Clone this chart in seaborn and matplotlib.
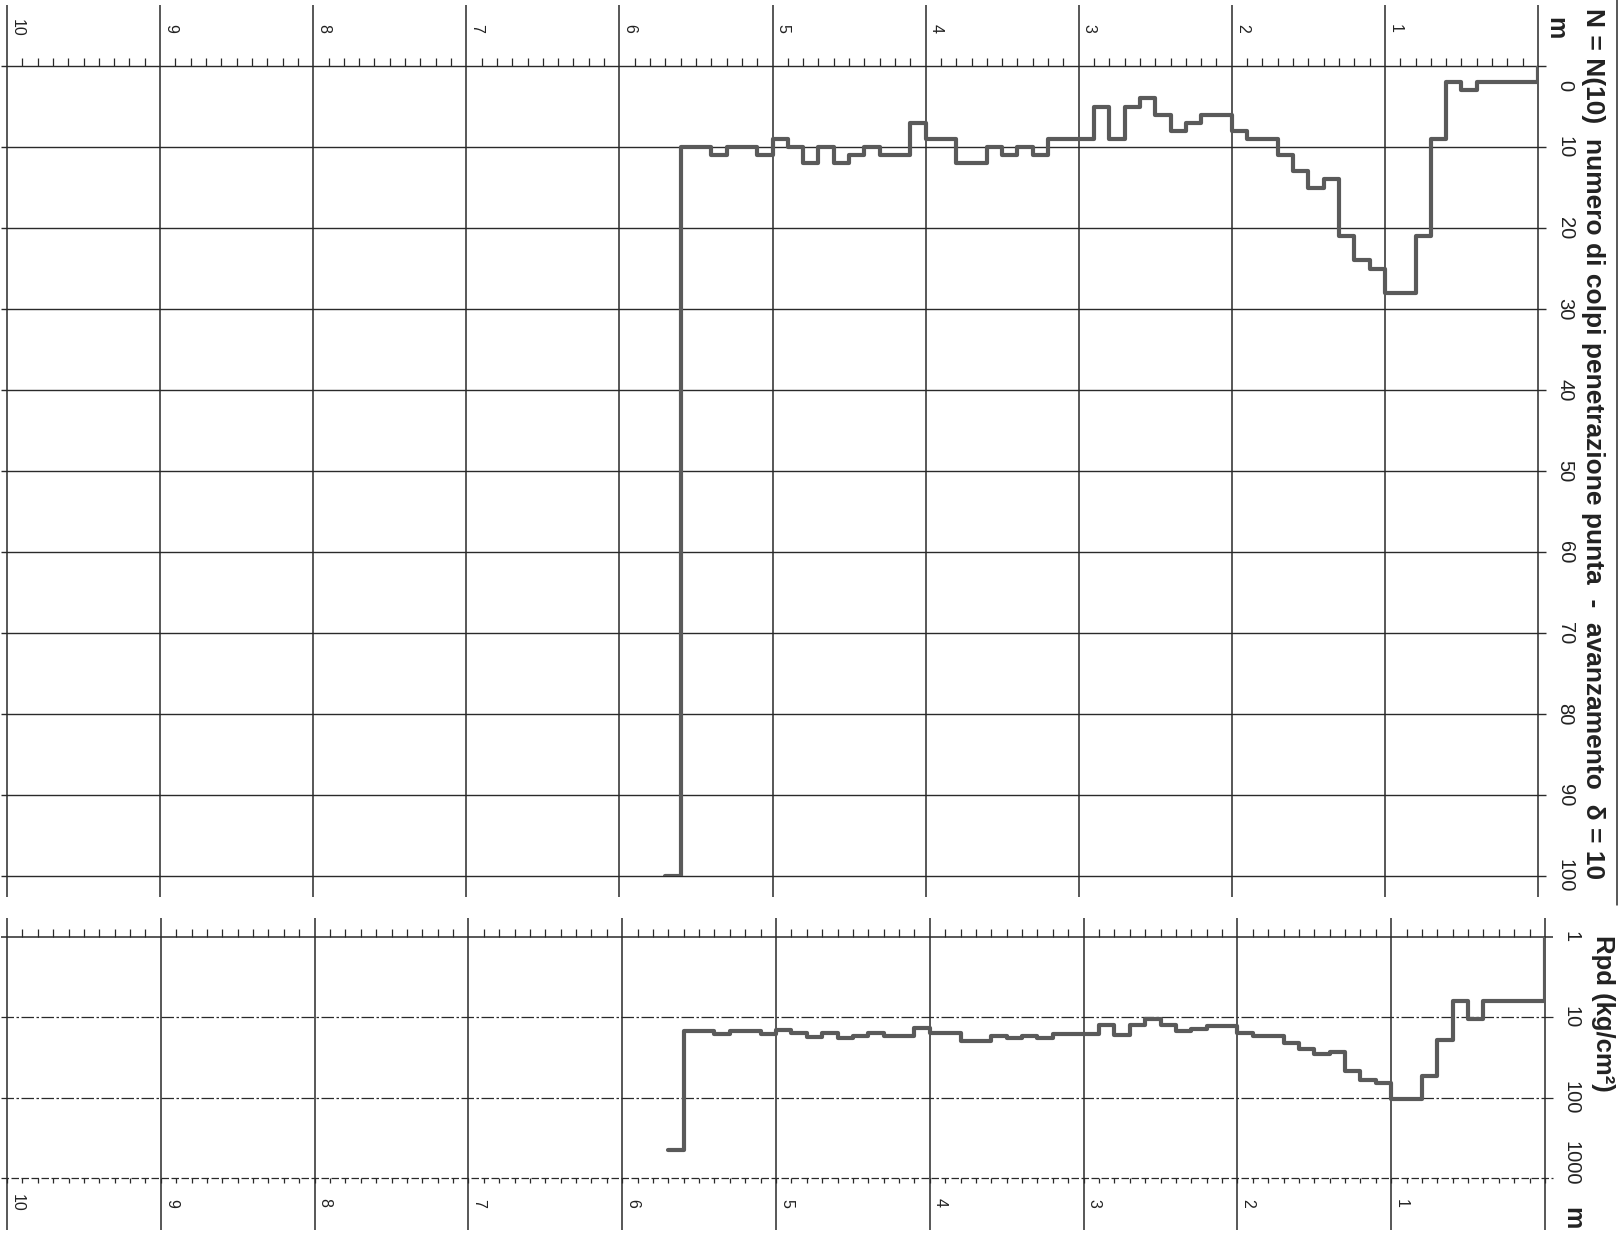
# Penetrometer log (DPM) - rotated layout, depth runs right -> left
import numpy as np
import pandas as pd
import matplotlib
matplotlib.use("Agg")
import matplotlib.pyplot as plt
import matplotlib.transforms as mtrans
from matplotlib.ticker import NullLocator
import seaborn as sns

# data: one value every 10 cm from 0 to 5.7 m
step = 0.1
n_blows = [2, 2, 2, 2, 3, 2, 9, 21, 28, 28,
           25, 24, 21, 14, 15, 13, 11, 9, 9, 8,
           6, 6, 7, 8, 6, 4, 5, 9, 5, 9,
           9, 9, 11, 10, 11, 10, 12, 12, 9, 9,
           7, 11, 11, 10, 11, 12, 10, 12, 10, 9,
           11, 10, 10, 11, 10, 10, 100]
rpd = [6.2, 6.2, 6.2, 6.2, 10.5, 6.2, 19, 53, 104, 104,
       66, 60, 47, 27, 29, 24.5, 21, 17, 17, 15.8,
       12.8, 12.8, 14, 15, 12.5, 10.5, 12.5, 16.5, 12.5, 16,
       16, 16, 18, 17, 18, 17, 19.5, 19.5, 15.5, 15.5,
       13.5, 17, 17, 15.5, 17, 18, 15.5, 17.5, 15.5, 14.5,
       16, 15, 15, 16, 15, 15, 450]

depth_labels = list(range(1, 11))
n_ticks = list(range(0, 101, 10))
rpd_ticks = [1, 10, 100, 1000]
title_n = "N = N(10)  numero di colpi penetrazione punta  -  avanzamento  \u03b4 = 10"
title_rpd = "Rpd (kg/cm\u00b2)"

# step table
edges = np.round(np.arange(len(n_blows) + 1) * step, 1)
df = pd.DataFrame({
    "depth": np.r_[0.0, edges],
    "N": np.r_[0, n_blows, n_blows[-1]],
    "Rpd": np.r_[1, rpd, rpd[-1]],
})

sns.set_style("white")
plt.rcParams["font.family"] = ["Liberation Sans", "DejaVu Sans"]

W, H = 1622, 1244
fig = plt.figure(figsize=(W / 100, H / 100), dpi=100)
fig.patch.set_facecolor("white")


def fx(px):
    return px / W


def fy(py):
    return 1 - py / H


grid_c = "#2a2a2a"
line_c = "#5a5a5a"
text_c = "#222222"

# axes rectangles (pixel positions of the scan)
ax1 = fig.add_axes([fx(7), fy(876), fx(1538) - fx(7), fy(66) - fy(876)])
ax2 = fig.add_axes([fx(7), fy(1178), fx(1545) - fx(7), fy(937) - fy(1178)])
h1 = 876 - 66
h2 = 1178 - 937

# ---------- panel 1 : N ----------
ax1.set_xlim(10, 0)
ax1.set_ylim(100, 0)
sns.lineplot(data=df, x="depth", y="N", ax=ax1, drawstyle="steps-post",
             estimator=None, sort=False, color=line_c, lw=3.0, zorder=5)
ax1.hlines(n_ticks, -0.004, 1.005, transform=ax1.get_yaxis_transform(),
           color=grid_c, lw=1.0, clip_on=False)
ax1.vlines(range(11), -21 / h1, 1 + 61 / h1, transform=ax1.get_xaxis_transform(),
           color=grid_c, lw=1.1, clip_on=False)
ax1.set_xticks(range(11))
ax1.set_xticks(np.arange(0, 10.01, 0.1), minor=True)
ax1.xaxis.set_ticks_position("top")
ax1.tick_params(axis="x", which="major", length=0, labeltop=False, labelbottom=False)
ax1.tick_params(axis="x", which="minor", length=6, width=0.9, color=grid_c,
                direction="out", top=True, bottom=False)
ax1.set_yticks([])
ax1.set_xlabel("")
ax1.set_ylabel("")
for s in ax1.spines.values():
    s.set_visible(False)

tr = mtrans.offset_copy(ax1.get_xaxis_transform(), fig=fig, x=3, units="dots")
for d in depth_labels:
    ax1.text(d, 1 + 38 / h1, str(d), transform=tr, rotation=-90,
             ha="left", va="center", fontsize=11.5, color=text_c)
for v in n_ticks:
    off = -20 if v == 0 else 0
    trn = mtrans.offset_copy(ax1.get_yaxis_transform(), fig=fig, y=off, units="dots")
    ax1.text(1 + 27 / 1531, v, str(v), transform=trn, rotation=-90,
             ha="center", va="center", fontsize=14.5, color=text_c)

# ---------- panel 2 : Rpd ----------
ax2.set_yscale("log")
ax2.set_xlim(10, 0)
ax2.set_ylim(1000, 1)
sns.lineplot(data=df, x="depth", y="Rpd", ax=ax2, drawstyle="steps-post",
             estimator=None, sort=False, color=line_c, lw=3.0, zorder=5)
ax2.hlines([1], -0.004, 1.005, transform=ax2.get_yaxis_transform(),
           color=grid_c, lw=1.1, clip_on=False)
ax2.hlines([10, 100], -0.004, 1.005, transform=ax2.get_yaxis_transform(),
           color=grid_c, lw=0.9, ls=(0, (10, 2, 2, 2)), clip_on=False)
ax2.hlines([1000], -0.004, 1.005, transform=ax2.get_yaxis_transform(),
           color=grid_c, lw=0.9, ls=(0, (6, 2)), clip_on=False)
ax2.vlines(range(11), -52 / h2, 1 + 19 / h2, transform=ax2.get_xaxis_transform(),
           color=grid_c, lw=1.1, clip_on=False)
minor = np.round(np.arange(0, 10.01, 0.1), 1)
ax2.vlines(minor, -5 / h2, 0, transform=ax2.get_xaxis_transform(),
           color=grid_c, lw=0.9, clip_on=False)
ax2.set_xticks(range(11))
ax2.set_xticks(minor, minor=True)
ax2.xaxis.set_ticks_position("top")
ax2.tick_params(axis="x", which="major", length=0, labeltop=False, labelbottom=False)
ax2.tick_params(axis="x", which="minor", length=6, width=0.9, color=grid_c,
                direction="out", top=True, bottom=False)
ax2.set_yticks([])
ax2.yaxis.set_minor_locator(NullLocator())
ax2.set_xlabel("")
ax2.set_ylabel("")
for s in ax2.spines.values():
    s.set_visible(False)

tr2 = mtrans.offset_copy(ax2.get_xaxis_transform(), fig=fig, x=3, units="dots")
for d in depth_labels:
    ax2.text(d, -25 / h2, str(d), transform=tr2, rotation=-90,
             ha="left", va="center", fontsize=11.5, color=text_c)
for v in rpd_ticks:
    off = 15 if v == 1000 else 0
    trr = mtrans.offset_copy(ax2.get_yaxis_transform(), fig=fig, y=off, units="dots")
    ax2.text(1 + 26 / 1538, v, str(v), transform=trr, rotation=-90,
             ha="center", va="center", fontsize=14.5, color=text_c)

# ---------- titles and frame ----------
fig.text(fx(1593), fy(8), title_n, rotation=-90, ha="center", va="top",
         fontsize=19, fontweight="bold", color=text_c)
fig.text(fx(1603), fy(935), title_rpd, rotation=-90, ha="center", va="top",
         fontsize=18.5, fontweight="bold", color=text_c)
fig.text(fx(1555), fy(28), "m", rotation=-90, ha="center", va="center",
         fontsize=18, fontweight="bold", color=text_c)
fig.text(fx(1572), fy(1218), "m", rotation=-90, ha="center", va="center",
         fontsize=18, fontweight="bold", color=text_c)
fig.add_artist(plt.Line2D([fx(1617), fx(1617)], [fy(0), fy(905)],
                          color=grid_c, lw=1.1))

fig.savefig("out.png", dpi=100)
